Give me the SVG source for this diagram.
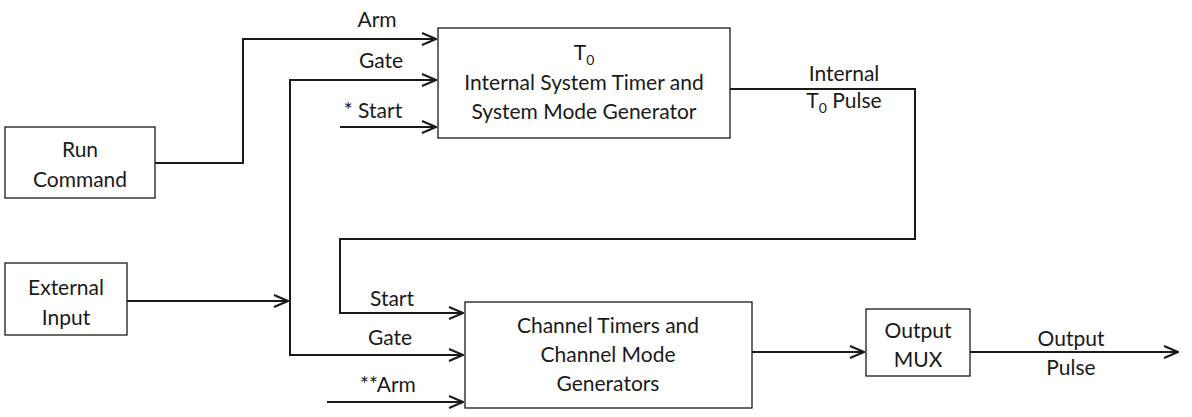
<svg xmlns="http://www.w3.org/2000/svg" width="1192" height="417" viewBox="0 0 1192 417">
<style>
rect{fill:#fff;stroke:#1a1a1a;stroke-width:1.3}
.c path{fill:none;stroke:#1a1a1a;stroke-width:2}
text{font-family:Lato,"Open Sans",sans-serif;font-size:21px;fill:#1a1a1a;text-anchor:middle}
</style>
<defs><marker id="a" markerWidth="16" markerHeight="14" refX="15" refY="7" orient="auto" markerUnits="userSpaceOnUse"><path d="M1,1 L15,7 L1,13" fill="none" stroke="#1a1a1a" stroke-width="2"/></marker></defs>
<rect width="1192" height="417" style="fill:#fff;stroke:none"/>
<g class="c">
<path d="M155,163 H243 V39 H436" marker-end="url(#a)"/>
<path d="M290,352 V80 H436" marker-end="url(#a)"/>
<path d="M340,127 H436" marker-end="url(#a)"/>
<path d="M127,301 H288" marker-end="url(#a)"/>
<path d="M730,89 H915 V239 H340 V313 H463" marker-end="url(#a)"/>
<path d="M290,352 V355 H463" marker-end="url(#a)"/>
<path d="M327,402 H463" marker-end="url(#a)"/>
<path d="M752,352 H864" marker-end="url(#a)"/>
<path d="M970,352 H1178" marker-end="url(#a)"/>
</g>
<g id="run"><rect x="5" y="127" width="150" height="71"/><text x="80" y="157">Run</text><text x="80" y="187">Command</text></g>
<g id="ext"><rect x="5" y="263" width="122" height="72"/><text x="66" y="295">External</text><text x="66" y="325">Input</text></g>
<g id="t0"><rect x="438" y="28" width="292" height="110"/><text x="584" y="60">T<tspan font-size="14" dy="5">0</tspan></text><text x="584" y="90">Internal System Timer and</text><text x="584" y="119">System Mode Generator</text></g>
<g id="ch"><rect x="465" y="302" width="287" height="106"/><text x="608" y="333">Channel Timers and</text><text x="608" y="362">Channel Mode</text><text x="608" y="391">Generators</text></g>
<g id="mux"><rect x="866" y="309" width="104" height="67"/><text x="918" y="338">Output</text><text x="918" y="367">MUX</text></g>
<g id="labels">
<text x="377" y="27">Arm</text><text x="381" y="68">Gate</text><text x="373" y="118">* Start</text>
<text x="844" y="81">Internal</text><text x="844" y="108">T<tspan font-size="14" dy="5">0</tspan><tspan dy="-5"> Pulse</tspan></text>
<text x="392" y="306">Start</text><text x="390" y="345">Gate</text><text x="388" y="392">**Arm</text>
<text x="1071" y="346">Output</text><text x="1071" y="375">Pulse</text>
</g>
</svg>
